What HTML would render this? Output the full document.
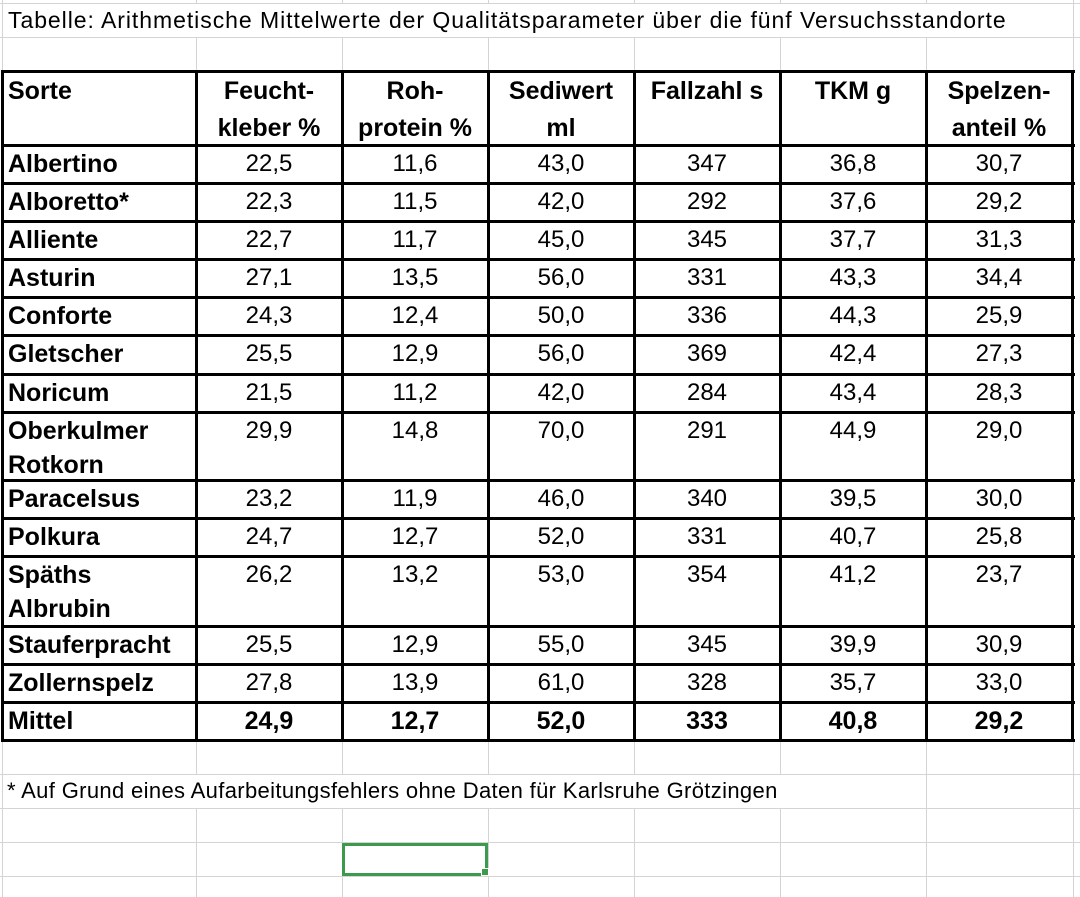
<!DOCTYPE html>
<html><head><meta charset="utf-8"><style>
*{margin:0;padding:0;box-sizing:border-box}
body{width:1080px;height:897px;background:#fff;position:relative;overflow:hidden;font-family:"Liberation Sans",Arial,sans-serif;color:#000}
.h{position:absolute;height:1px;background:#d4d4d4}
.v{position:absolute;width:1px;background:#d4d4d4}
.H{position:absolute;height:3px;background:#000}
.V{position:absolute;width:3px;background:#000}
.t{position:absolute;font-size:24px;line-height:34px;white-space:nowrap}
.c{text-align:center}
.b{font-weight:bold;font-size:25px}
</style></head><body>
<div class="h" style="left:0;top:3px;width:1080px"></div>
<div class="h" style="left:0;top:37px;width:1080px"></div>
<div class="v" style="left:2px;top:0;height:897px"></div>
<div class="v" style="left:1073px;top:0;height:897px"></div>
<div class="v" style="left:196px;top:0;height:3px"></div>
<div class="v" style="left:342px;top:0;height:3px"></div>
<div class="v" style="left:488px;top:0;height:3px"></div>
<div class="v" style="left:634px;top:0;height:3px"></div>
<div class="v" style="left:780px;top:0;height:3px"></div>
<div class="v" style="left:926px;top:0;height:3px"></div>
<div class="v" style="left:196px;top:37px;height:34px"></div>
<div class="v" style="left:342px;top:37px;height:34px"></div>
<div class="v" style="left:488px;top:37px;height:34px"></div>
<div class="v" style="left:634px;top:37px;height:34px"></div>
<div class="v" style="left:780px;top:37px;height:34px"></div>
<div class="v" style="left:926px;top:37px;height:34px"></div>
<div class="h" style="left:0;top:774px;width:1080px"></div>
<div class="h" style="left:0;top:808px;width:1080px"></div>
<div class="h" style="left:0;top:842px;width:1080px"></div>
<div class="h" style="left:0;top:876px;width:1080px"></div>
<div class="v" style="left:196px;top:741px;height:33px"></div>
<div class="v" style="left:342px;top:741px;height:33px"></div>
<div class="v" style="left:488px;top:741px;height:33px"></div>
<div class="v" style="left:634px;top:741px;height:33px"></div>
<div class="v" style="left:780px;top:741px;height:33px"></div>
<div class="v" style="left:926px;top:741px;height:33px"></div>
<div class="v" style="left:926px;top:774px;height:34px"></div>
<div class="v" style="left:196px;top:808px;height:89px"></div>
<div class="v" style="left:342px;top:808px;height:89px"></div>
<div class="v" style="left:488px;top:808px;height:89px"></div>
<div class="v" style="left:634px;top:808px;height:89px"></div>
<div class="v" style="left:780px;top:808px;height:89px"></div>
<div class="v" style="left:926px;top:808px;height:89px"></div>

<div class="t" style="left:8px;top:4px;font-size:23px;line-height:32px;letter-spacing:0.95px">Tabelle: Arithmetische Mittelwerte der Qualitätsparameter über die fünf Versuchsstandorte</div>
<div class="t" style="left:7px;top:774px;font-size:22px;line-height:34px;letter-spacing:0.35px">* Auf Grund eines Aufarbeitungsfehlers ohne Daten für Karlsruhe Grötzingen</div>

<div style="position:absolute;left:342px;top:843px;width:146px;height:33px;border:3px solid #3b9a4e"></div>
<div style="position:absolute;left:481px;top:868px;width:8px;height:8px;background:#3b9a4e;border:1px solid #fff"></div>

<div class="H" style="left:2px;top:70px;width:1073px"></div>
<div class="H" style="left:2px;top:144px;width:1073px"></div>
<div class="H" style="left:2px;top:182px;width:1073px"></div>
<div class="H" style="left:2px;top:220px;width:1073px"></div>
<div class="H" style="left:2px;top:258px;width:1073px"></div>
<div class="H" style="left:2px;top:296px;width:1073px"></div>
<div class="H" style="left:2px;top:334px;width:1073px"></div>
<div class="H" style="left:2px;top:373px;width:1073px"></div>
<div class="H" style="left:2px;top:411px;width:1073px"></div>
<div class="H" style="left:2px;top:479px;width:1073px"></div>
<div class="H" style="left:2px;top:517px;width:1073px"></div>
<div class="H" style="left:2px;top:555px;width:1073px"></div>
<div class="H" style="left:2px;top:625px;width:1073px"></div>
<div class="H" style="left:2px;top:663px;width:1073px"></div>
<div class="H" style="left:2px;top:701px;width:1073px"></div>
<div class="H" style="left:2px;top:739px;width:1073px"></div>
<div class="V" style="left:1px;top:70px;height:672px"></div>
<div class="V" style="left:195px;top:70px;height:672px"></div>
<div class="V" style="left:341px;top:70px;height:672px"></div>
<div class="V" style="left:487px;top:70px;height:672px"></div>
<div class="V" style="left:633px;top:70px;height:672px"></div>
<div class="V" style="left:779px;top:70px;height:672px"></div>
<div class="V" style="left:925px;top:70px;height:672px"></div>
<div class="V" style="left:1071px;top:70px;height:672px"></div>

<div class="t b" style="left:8px;top:73px;line-height:37px">Sorte</div>
<div class="t b c" style="left:198px;width:142px;top:73px;line-height:37px">Feucht-<br>kleber %</div>
<div class="t b c" style="left:344px;width:142px;top:73px;line-height:37px">Roh-<br>protein %</div>
<div class="t b c" style="left:490px;width:142px;top:73px;line-height:37px">Sediwert<br>ml</div>
<div class="t b c" style="left:636px;width:142px;top:73px;line-height:37px">Fallzahl s</div>
<div class="t b c" style="left:782px;width:142px;top:73px;line-height:37px">TKM g</div>
<div class="t b c" style="left:928px;width:142px;top:73px;line-height:37px">Spelzen-<br>anteil %</div>

<div class="t b" style="left:8px;top:147px">Albertino</div>
<div class="t c" style="left:198px;width:142px;top:147px">22,5</div><div class="t c" style="left:344px;width:142px;top:147px">11,6</div><div class="t c" style="left:490px;width:142px;top:147px">43,0</div><div class="t c" style="left:636px;width:142px;top:147px">347</div><div class="t c" style="left:782px;width:142px;top:147px">36,8</div><div class="t c" style="left:928px;width:142px;top:147px">30,7</div>

<div class="t b" style="left:8px;top:185px">Alboretto*</div>
<div class="t c" style="left:198px;width:142px;top:185px">22,3</div><div class="t c" style="left:344px;width:142px;top:185px">11,5</div><div class="t c" style="left:490px;width:142px;top:185px">42,0</div><div class="t c" style="left:636px;width:142px;top:185px">292</div><div class="t c" style="left:782px;width:142px;top:185px">37,6</div><div class="t c" style="left:928px;width:142px;top:185px">29,2</div>

<div class="t b" style="left:8px;top:223px">Alliente</div>
<div class="t c" style="left:198px;width:142px;top:223px">22,7</div><div class="t c" style="left:344px;width:142px;top:223px">11,7</div><div class="t c" style="left:490px;width:142px;top:223px">45,0</div><div class="t c" style="left:636px;width:142px;top:223px">345</div><div class="t c" style="left:782px;width:142px;top:223px">37,7</div><div class="t c" style="left:928px;width:142px;top:223px">31,3</div>

<div class="t b" style="left:8px;top:261px">Asturin</div>
<div class="t c" style="left:198px;width:142px;top:261px">27,1</div><div class="t c" style="left:344px;width:142px;top:261px">13,5</div><div class="t c" style="left:490px;width:142px;top:261px">56,0</div><div class="t c" style="left:636px;width:142px;top:261px">331</div><div class="t c" style="left:782px;width:142px;top:261px">43,3</div><div class="t c" style="left:928px;width:142px;top:261px">34,4</div>

<div class="t b" style="left:8px;top:299px">Conforte</div>
<div class="t c" style="left:198px;width:142px;top:299px">24,3</div><div class="t c" style="left:344px;width:142px;top:299px">12,4</div><div class="t c" style="left:490px;width:142px;top:299px">50,0</div><div class="t c" style="left:636px;width:142px;top:299px">336</div><div class="t c" style="left:782px;width:142px;top:299px">44,3</div><div class="t c" style="left:928px;width:142px;top:299px">25,9</div>

<div class="t b" style="left:8px;top:337px">Gletscher</div>
<div class="t c" style="left:198px;width:142px;top:337px">25,5</div><div class="t c" style="left:344px;width:142px;top:337px">12,9</div><div class="t c" style="left:490px;width:142px;top:337px">56,0</div><div class="t c" style="left:636px;width:142px;top:337px">369</div><div class="t c" style="left:782px;width:142px;top:337px">42,4</div><div class="t c" style="left:928px;width:142px;top:337px">27,3</div>

<div class="t b" style="left:8px;top:376px">Noricum</div>
<div class="t c" style="left:198px;width:142px;top:376px">21,5</div><div class="t c" style="left:344px;width:142px;top:376px">11,2</div><div class="t c" style="left:490px;width:142px;top:376px">42,0</div><div class="t c" style="left:636px;width:142px;top:376px">284</div><div class="t c" style="left:782px;width:142px;top:376px">43,4</div><div class="t c" style="left:928px;width:142px;top:376px">28,3</div>

<div class="t b" style="left:8px;top:414px">Oberkulmer<br>Rotkorn</div>
<div class="t c" style="left:198px;width:142px;top:414px">29,9</div><div class="t c" style="left:344px;width:142px;top:414px">14,8</div><div class="t c" style="left:490px;width:142px;top:414px">70,0</div><div class="t c" style="left:636px;width:142px;top:414px">291</div><div class="t c" style="left:782px;width:142px;top:414px">44,9</div><div class="t c" style="left:928px;width:142px;top:414px">29,0</div>

<div class="t b" style="left:8px;top:482px">Paracelsus</div>
<div class="t c" style="left:198px;width:142px;top:482px">23,2</div><div class="t c" style="left:344px;width:142px;top:482px">11,9</div><div class="t c" style="left:490px;width:142px;top:482px">46,0</div><div class="t c" style="left:636px;width:142px;top:482px">340</div><div class="t c" style="left:782px;width:142px;top:482px">39,5</div><div class="t c" style="left:928px;width:142px;top:482px">30,0</div>

<div class="t b" style="left:8px;top:520px">Polkura</div>
<div class="t c" style="left:198px;width:142px;top:520px">24,7</div><div class="t c" style="left:344px;width:142px;top:520px">12,7</div><div class="t c" style="left:490px;width:142px;top:520px">52,0</div><div class="t c" style="left:636px;width:142px;top:520px">331</div><div class="t c" style="left:782px;width:142px;top:520px">40,7</div><div class="t c" style="left:928px;width:142px;top:520px">25,8</div>

<div class="t b" style="left:8px;top:558px">Späths<br>Albrubin</div>
<div class="t c" style="left:198px;width:142px;top:558px">26,2</div><div class="t c" style="left:344px;width:142px;top:558px">13,2</div><div class="t c" style="left:490px;width:142px;top:558px">53,0</div><div class="t c" style="left:636px;width:142px;top:558px">354</div><div class="t c" style="left:782px;width:142px;top:558px">41,2</div><div class="t c" style="left:928px;width:142px;top:558px">23,7</div>

<div class="t b" style="left:8px;top:628px">Stauferpracht</div>
<div class="t c" style="left:198px;width:142px;top:628px">25,5</div><div class="t c" style="left:344px;width:142px;top:628px">12,9</div><div class="t c" style="left:490px;width:142px;top:628px">55,0</div><div class="t c" style="left:636px;width:142px;top:628px">345</div><div class="t c" style="left:782px;width:142px;top:628px">39,9</div><div class="t c" style="left:928px;width:142px;top:628px">30,9</div>

<div class="t b" style="left:8px;top:666px">Zollernspelz</div>
<div class="t c" style="left:198px;width:142px;top:666px">27,8</div><div class="t c" style="left:344px;width:142px;top:666px">13,9</div><div class="t c" style="left:490px;width:142px;top:666px">61,0</div><div class="t c" style="left:636px;width:142px;top:666px">328</div><div class="t c" style="left:782px;width:142px;top:666px">35,7</div><div class="t c" style="left:928px;width:142px;top:666px">33,0</div>

<div class="t b" style="left:8px;top:704px">Mittel</div>
<div class="t c b" style="left:198px;width:142px;top:704px">24,9</div><div class="t c b" style="left:344px;width:142px;top:704px">12,7</div><div class="t c b" style="left:490px;width:142px;top:704px">52,0</div><div class="t c b" style="left:636px;width:142px;top:704px">333</div><div class="t c b" style="left:782px;width:142px;top:704px">40,8</div><div class="t c b" style="left:928px;width:142px;top:704px">29,2</div>
</body></html>
